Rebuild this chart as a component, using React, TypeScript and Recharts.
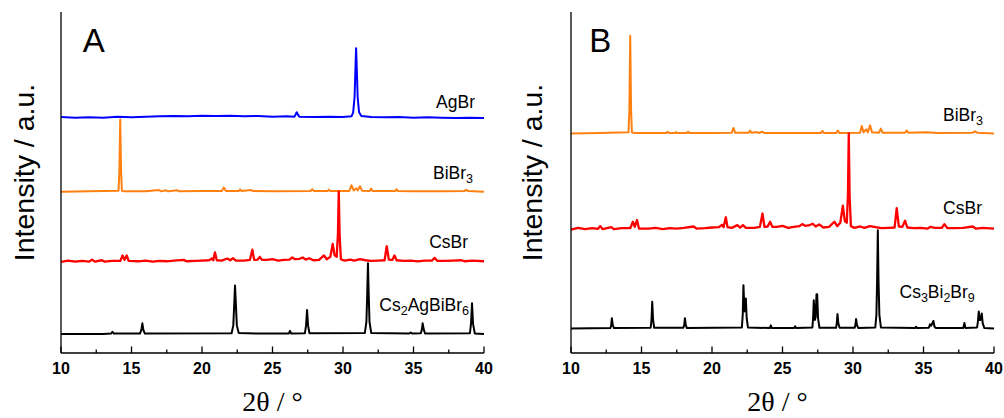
import React from "react";
import { LineChart, Line, XAxis, YAxis, ReferenceDot } from "recharts";

// 2θ ticks (major every 5°, minor every 2.5°)
const xTicks = [10, 12.5, 15, 17.5, 20, 22.5, 25, 27.5, 30, 32.5, 35, 37.5, 40];

// [2θ, intensity above own baseline], arbitrary units
const agBrA = [
  [10, 0.2], [11, 0], [12, 0.1], [13, 0], [14, 0.3], [15, 0.1], [16, 0.3], [17, 0.4], [18, 0.5],
  [19, 0.4], [20, 0.6], [21, 0.5], [22, 0.6], [23, 0.4], [24, 0.5], [25, 0.3], [26, 0.4],
  [26.55, 0.3], [26.65, 1.0], [26.72, 1.6], [26.8, 0.9], [26.9, 0.3], [28, 0.2], [29, 0.3],
  [30, 0.2], [30.6, 0.4], [30.72, 1.5], [30.82, 6], [30.88, 14], [30.93, 20.4], [30.98, 14],
  [31.04, 6], [31.14, 1.6], [31.3, 0.5], [32, 0.2], [33, 0.1], [34, 0.2], [35, 0], [36, 0.1],
  [37, 0], [38, -0.1], [39, 0], [40, -0.1],
];

const biBr3A = [
  [10, 0], [12, 0.1], [14.08, 0.3], [14.14, 6], [14.2, 21.2], [14.26, 6], [14.32, 0.3],
  [14.5, 0.1], [16, 0.1], [16.95, 0.5], [17.1, 0.1], [17.45, 0.4], [17.6, 0.1], [18.25, 0.4],
  [18.4, 0.1], [20, 0.2], [21.4, 0.2], [21.55, 1.2], [21.7, 0.2], [22.6, 0.2], [22.7, 0.7],
  [22.8, 0.2], [23.5, 0.5], [23.6, 0.2], [25, 0.1], [27.7, 0.2], [27.82, 0.7], [27.95, 0.2],
  [28.9, 0.2], [29, 0.6], [29.1, 0.2], [30.45, 0.2], [30.6, 1.9], [30.75, 0.4], [30.95, 1],
  [31.05, 0.4], [31.2, 1.6], [31.35, 0.3], [31.9, 0.2], [32, 0.9], [32.1, 0.2], [33.7, 0.2],
  [33.8, 0.7], [33.9, 0.2], [35, 0.1], [37, 0.1], [38.6, 0.2], [38.75, 0.5], [38.9, 0.2], [40, 0],
];

const csBrA = [
  [10, 0], [10.5, 0.4], [11, 0.1], [11.5, 0.3], [12, 0.1], [12.2, 0.7], [12.4, 0.1], [12.9, 0.5],
  [13.1, 0.1], [13.6, 0.3], [14.2, 0.3], [14.37, 1.9], [14.5, 0.6], [14.66, 1.9], [14.8, 0.3],
  [15.5, 0.2], [16, 0.4], [16.5, 0.1], [17, 0.3], [17.5, 0.2], [18, 0.4], [18.7, 0.6], [18.9, 0.2],
  [19.5, 0.3], [20, 0.4], [20.5, 0.5], [20.7, 1], [20.8, 0.5], [20.92, 2.8], [21.05, 0.5],
  [21.4, 0.4], [21.8, 1], [22, 0.5], [22.2, 1.1], [22.4, 0.4], [23, 0.4], [23.4, 0.6],
  [23.57, 3.6], [23.7, 0.6], [23.95, 0.7], [24.1, 1.5], [24.25, 0.6], [24.6, 0.6], [25, 0.8],
  [25.4, 0.4], [25.8, 0.6], [26.2, 0.7], [26.4, 1.3], [26.6, 0.8], [26.9, 0.9], [27.15, 1.3],
  [27.35, 0.7], [27.6, 1.1], [27.9, 0.5], [28.3, 0.6], [28.65, 1.9], [28.85, 0.8], [29.1, 1.5],
  [29.27, 5.3], [29.4, 2.0], [29.55, 1.5], [29.64, 8], [29.7, 20.6], [29.76, 8], [29.85, 0.8],
  [30.1, 0.4], [30.5, 0.7], [30.8, 0.4], [31.2, 0.8], [31.6, 0.5], [32, 0.3], [32.5, 0.4],
  [32.95, 0.5], [33.1, 4.6], [33.25, 0.7], [33.5, 0.6], [33.65, 1.9], [33.8, 0.5], [34.3, 0.3],
  [34.8, 0.4], [35.3, 0.2], [35.8, 0.4], [36.3, 0.4], [36.5, 1.2], [36.7, 0.3], [37.2, 0.3],
  [37.8, 0.4], [38.4, 0.5], [38.6, 0.2], [39.2, 0.4], [40, 0.2],
];

const cs2AgBiBr6A = [
  [10, 0], [13, 0], [13.55, 0.1], [13.65, 0.6], [13.75, 0.1], [15.6, 0.1], [15.7, 1.2],
  [15.77, 3.1], [15.84, 1.2], [15.95, 0.1], [22.1, 0.2], [22.22, 2.5], [22.29, 9], [22.34, 14.2],
  [22.4, 9], [22.47, 2.5], [22.6, 0.3], [24, 0.1], [26.15, 0.1], [26.24, 0.9], [26.33, 0.1],
  [27.3, 0.2], [27.38, 2.5], [27.45, 7.0], [27.52, 2.5], [27.62, 0.2], [31.55, 0.3], [31.66, 3.5],
  [31.72, 12], [31.77, 20.7], [31.82, 12], [31.88, 3.5], [32, 0.3], [34.7, 0.1], [34.8, 0.4],
  [34.9, 0.1], [35.52, 0.2], [35.6, 1.4], [35.65, 3.1], [35.72, 1.4], [35.82, 0.1], [39, 0.2],
  [39.08, 3], [39.15, 9], [39.22, 3], [39.35, 0.1], [40, 0],
];

const biBr3B = [
  [10, 0], [12, 0.1], [14.08, 0.3], [14.14, 7], [14.2, 28.6], [14.26, 7], [14.32, 0.3], [14.5, 0.1],
  [16.75, 0.1], [16.85, 0.5], [16.95, 0.1], [17.4, 0.1], [17.46, 0.4], [17.55, 0.1], [18.2, 0.1],
  [18.3, 0.5], [18.4, 0.1], [20, 0.1], [21.4, 0.2], [21.52, 1.6], [21.64, 0.2], [22.6, 0.2],
  [22.7, 0.8], [22.8, 0.2], [23.18, 0.4], [23.3, 0.1], [23.58, 0.5], [23.7, 0.1], [25, 0.1],
  [27.7, 0.1], [27.83, 0.7], [27.95, 0.1], [28.8, 0.1], [28.92, 0.8], [29.05, 0.1], [30.5, 0.2],
  [30.62, 2.2], [30.75, 0.3], [30.93, 1.2], [31.05, 0.3], [31.21, 2.4], [31.35, 0.3], [31.85, 0.2],
  [31.97, 1.4], [32.1, 0.2], [33.7, 0.2], [33.81, 0.8], [33.92, 0.2], [35.23, 0.3], [36, 0.1],
  [38.5, 0.2], [38.65, 0.6], [38.8, 0.2], [40, 0],
];

const csBrB = [
  [10, 0], [10.5, 0.5], [11, 0.1], [11.5, 0.4], [11.9, 0.2], [12.08, 1], [12.25, 0.1], [12.86, 0.7],
  [13.05, 0.1], [13.6, 0.4], [14.2, 0.4], [14.39, 2.3], [14.52, 0.8], [14.68, 2.8], [14.82, 0.3],
  [15.5, 0.3], [16, 0.5], [16.5, 0.1], [17, 0.4], [17.5, 0.3], [18, 0.5], [18.7, 0.9], [18.9, 0.3],
  [19.5, 0.4], [20, 0.6], [20.5, 0.7], [20.7, 1.4], [20.82, 0.7], [20.98, 3.6], [21.1, 0.7],
  [21.4, 0.5], [21.8, 1.3], [22, 0.6], [22.2, 1.3], [22.4, 0.5], [23, 0.5], [23.4, 0.8],
  [23.58, 4.7], [23.72, 0.8], [23.95, 0.9], [24.12, 2.3], [24.28, 0.8], [24.6, 0.8], [25, 1.1],
  [25.4, 0.5], [25.8, 0.8], [26.2, 1], [26.4, 1.6], [26.6, 1.1], [26.85, 1.2], [27.15, 1.7],
  [27.35, 0.9], [27.6, 1.5], [27.9, 0.6], [28.3, 0.8], [28.68, 2.3], [28.88, 1], [29.1, 2],
  [29.28, 7], [29.42, 2.5], [29.56, 2], [29.64, 10], [29.7, 28.2], [29.76, 10], [29.85, 1],
  [30.1, 0.5], [30.5, 0.9], [30.8, 0.5], [31.2, 1], [31.6, 0.7], [32, 0.4], [32.5, 0.5],
  [32.95, 0.6], [33.1, 6.3], [33.25, 0.9], [33.5, 0.8], [33.69, 2.6], [33.85, 0.6], [34.3, 0.4],
  [34.8, 0.5], [35.3, 0.3], [35.5, 0.8], [35.8, 0.5], [36.3, 0.5], [36.48, 1.6], [36.7, 0.4],
  [37.2, 0.4], [37.8, 0.5], [38.5, 0.9], [38.7, 0.3], [39.2, 0.5], [40, 0.3],
];

const cs3Bi2Br9B = [
  [10, 0], [12.8, 0.1], [12.85, 1], [12.9, 3.0], [12.96, 1], [13.05, 0.1], [15.65, 0.2],
  [15.71, 2.5], [15.76, 7.8], [15.82, 2.5], [15.9, 0.2], [17.97, 0.2], [18.03, 1], [18.08, 3.0],
  [18.14, 1], [18.22, 0.1], [22.12, 0.3], [22.18, 4], [22.23, 12.7], [22.3, 5], [22.35, 6],
  [22.4, 8.8], [22.46, 3], [22.55, 0.3], [24.1, 0.1], [24.17, 0.9], [24.25, 0.1], [25.82, 0.1],
  [25.9, 0.6], [25.98, 0.1], [27.12, 0.3], [27.17, 3], [27.22, 8.3], [27.3, 2.5], [27.36, 3.5],
  [27.41, 10], [27.46, 10], [27.52, 3], [27.62, 0.2], [28.8, 0.2], [28.85, 1.5], [28.9, 4.2],
  [28.96, 1.5], [29.05, 0.2], [30.12, 0.2], [30.17, 1], [30.22, 2.8], [30.28, 1], [30.38, 0.1],
  [31.58, 0.3], [31.66, 4], [31.71, 14], [31.76, 28.8], [31.81, 14], [31.87, 4], [31.98, 0.3],
  [34.4, 0.1], [34.47, 0.5], [34.55, 0.1], [35.38, 0.2], [35.46, 1.2], [35.55, 0.8], [35.62, 1.5],
  [35.7, 2.2], [35.78, 0.5], [35.9, 0.1], [37.82, 0.1], [37.9, 1.6], [37.98, 0.1], [38.8, 0.3],
  [38.86, 2], [38.92, 5], [38.98, 2.5], [39.05, 2.5], [39.13, 4.4], [39.2, 1.5], [39.32, 0.1],
  [40, 0],
];

// vertical offsets of each pattern (stacked plot)
const offsetsA = [69, 47.3, 26.7, 5.6];
const offsetsB = [64.4, 36.2, 7.2];

const SANS = "'Liberation Sans', Arial, Helvetica, sans-serif";
const SERIF = "'Liberation Serif', 'Times New Roman', serif";

const toRows = (pts: number[][], off: number) => pts.map(([x, y]) => ({ x, y: y + off }));

const panelA = {
  letter: "A",
  letterPos: [11.55, 88.3],
  left: 61,
  width: 500,
  right: 16,
  yLabelX: 24,
  xLabelDx: 0,
  traces: [
    { pts: agBrA, off: offsetsA[0], color: "#0000ff", sw: 2, label: [["AgBr", 0]], lx: 39.36, ly: 71.8 },
    { pts: biBr3A, off: offsetsA[1], color: "#ff8010", sw: 2, label: [["BiBr", 0], ["3", 1]], lx: 39.22, ly: 51.0 },
    { pts: csBrA, off: offsetsA[2], color: "#ff0000", sw: 2.3, label: [["CsBr", 0]], lx: 38.87, ly: 30.8 },
    { pts: cs2AgBiBr6A, off: offsetsA[3], color: "#000000", sw: 2, label: [["Cs", 0], ["2", 1], ["AgBiBr", 0], ["6", 1]], lx: 38.94, ly: 12.3 },
  ],
};

const panelB = {
  letter: "B",
  letterPos: [11.3, 88.3],
  left: 71,
  width: 504,
  right: 10,
  yLabelX: 32,
  xLabelDx: -5,
  traces: [
    { pts: biBr3B, off: offsetsB[0], color: "#ff8010", sw: 2, label: [["BiBr", 0], ["3", 1]], lx: 39.22, ly: 68.1 },
    { pts: csBrB, off: offsetsB[1], color: "#ff0000", sw: 2.3, label: [["CsBr", 0]], lx: 39.15, ly: 40.7 },
    { pts: cs3Bi2Br9B, off: offsetsB[2], color: "#000000", sw: 2, label: [["Cs", 0], ["3", 1], ["Bi", 0], ["2", 1], ["Br", 0], ["9", 1]], lx: 38.64, ly: 16.2 },
  ],
};

const XTick = (props: any) => {
  const { x, y, payload } = props;
  const major = payload.value % 5 === 0;
  return (
    <g>
      <line x1={x} x2={x} y1={y} y2={y - (major ? 6.5 : 3.5)} stroke="#000" strokeWidth={1.3} />
      {major && (
        <text x={x} y={y + 21} textAnchor="middle" fontFamily={SANS} fontWeight="bold" fontSize={16} fill="#000">
          {payload.value}
        </text>
      )}
    </g>
  );
};

const SeriesLabel = (parts: any[]) => (p: any) => {
  let prevSub = 0;
  return (
    <text x={p.cx} y={p.cy} textAnchor="end" fontFamily={SANS} fontSize={17.5} fill="#000">
      {parts.map(([t, sub]: any, i: number) => {
        const dy = sub && !prevSub ? 4 : !sub && prevSub ? -4 : 0;
        prevSub = sub;
        return (
          <tspan key={i} dy={dy} fontSize={sub ? 12.5 : 17.5}>
            {t}
          </tspan>
        );
      })}
    </text>
  );
};

const Panel = ({ cfg }: any) => {
  const axisLine = { stroke: "#000", strokeWidth: 1.3 };
  return (
    <LineChart width={cfg.width} height={418} margin={{ top: 12, right: cfg.right, left: 0, bottom: 0 }}>
      <XAxis
        xAxisId="b"
        type="number"
        dataKey="x"
        domain={[10, 40]}
        ticks={xTicks}
        interval={0}
        allowDataOverflow
        height={65}
        tickSize={0}
        tickMargin={0}
        tickLine={false}
        tick={XTick}
        axisLine={axisLine}
        label={{
          content: (p: any) => {
            const vb = p.viewBox;
            return (
              <text x={vb.x + vb.width / 2 + cfg.xLabelDx} y={vb.y + vb.height - 7} textAnchor="middle" fontFamily={SERIF} fontSize={28} fill="#000">
                2θ / °
              </text>
            );
          },
        }}
      />
      <XAxis xAxisId="t" orientation="top" type="number" domain={[10, 40]} height={0} tick={false} tickLine={false} axisLine={axisLine} />
      <YAxis
        yAxisId="l"
        type="number"
        domain={[0, 100]}
        allowDataOverflow
        width={cfg.left}
        tick={false}
        tickLine={false}
        axisLine={axisLine}
        label={{
          content: (p: any) => {
            const vb = p.viewBox;
            const cx = vb.x + cfg.yLabelX;
            const cy = vb.y + vb.height / 2 - 10;
            return (
              <text x={cx} y={cy} transform={`rotate(-90 ${cx} ${cy})`} textAnchor="middle" dominantBaseline="central" fontFamily={SANS} fontSize={28.5} fill="#000">
                Intensity / a.u.
              </text>
            );
          },
        }}
      />
      <YAxis yAxisId="r" orientation="right" type="number" domain={[0, 100]} width={0} tick={false} tickLine={false} axisLine={axisLine} />
      {cfg.traces.map((t: any, i: number) => (
        <Line
          key={i}
          xAxisId="b"
          yAxisId="l"
          data={toRows(t.pts, t.off)}
          dataKey="y"
          type="linear"
          dot={false}
          stroke={t.color}
          strokeWidth={t.sw}
          strokeLinejoin="round"
          isAnimationActive={false}
        />
      ))}
      {cfg.traces.map((t: any, i: number) => (
        <ReferenceDot key={"l" + i} xAxisId="b" yAxisId="l" x={t.lx} y={t.ly} r={0} shape={SeriesLabel(t.label)} />
      ))}
      <ReferenceDot
        xAxisId="b"
        yAxisId="l"
        x={cfg.letterPos[0]}
        y={cfg.letterPos[1]}
        r={0}
        shape={(p: any) => (
          <text x={p.cx} y={p.cy} fontFamily={SANS} fontSize={33} fill="#000">
            {cfg.letter}
          </text>
        )}
      />
    </LineChart>
  );
};

export default function App() {
  return (
    <div style={{ position: "absolute", left: 0, top: 0, width: 1004, height: 418, background: "#fff" }}>
      <div style={{ position: "absolute", left: 0, top: 0 }}>
        <Panel cfg={panelA} />
      </div>
      <div style={{ position: "absolute", left: 500, top: 0 }}>
        <Panel cfg={panelB} />
      </div>
    </div>
  );
}
